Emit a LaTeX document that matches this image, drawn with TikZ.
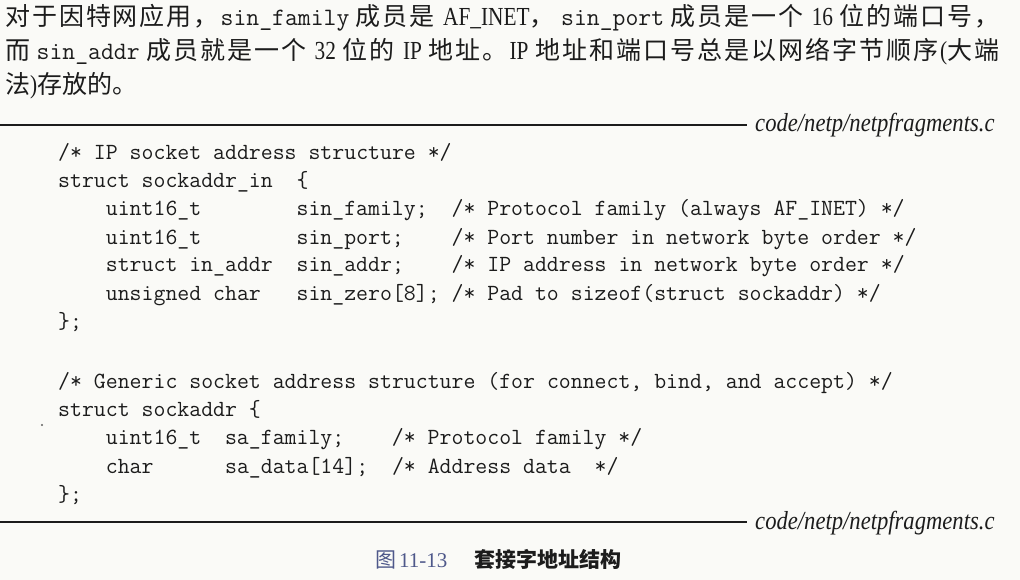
\documentclass[tikz,border=0pt]{standalone}
\usepackage{fontspec}
\usepackage{graphicx}
\setmainfont{Liberation Serif}
\newfontfamily\cjk{Noto Sans CJK SC}
\definecolor{paper}{RGB}{250,250,247}
\definecolor{ink}{RGB}{28,28,28}
\definecolor{capblue}{RGB}{78,88,138}
\newcommand\tx[1]{{\fontsize{25}{25}\selectfont\ttfamily #1}}
\newcommand\lr[1]{\scalebox{0.82}[1]{\fontsize{26}{26}\selectfont\rmfamily #1}}
\newcommand\gp{\hskip 0.22em plus 0.5pt\relax}
\makeatletter
\def\sprd#1{\sprd@#1\@nil}
\def\sprd@#1{\ifx\@nil#1\else#1\hskip 0pt plus 1pt\relax\expandafter\sprd@\fi}
\makeatother
\begin{document}
\begin{tikzpicture}[x=1pt,y=-1pt,
  bodytext/.style={anchor=base west, inner sep=0pt, text=ink, font=\cjk\fontsize{25}{34}\selectfont},
  codeline/.style={anchor=base west, inner sep=0pt, text=ink, font=\fontsize{23.15}{28}\selectfont\ttfamily},
  rulestyle/.style={draw=ink, line width=2.2pt},
  filelabel/.style={anchor=base west, inner sep=0pt, text=ink},
  captext/.style={anchor=base west, inner sep=0pt, text=ink}]
\fill[paper] (0,0) rectangle (1020,580);
\useasboundingbox (0,0) rectangle (1020,580);

% paragraph
\node[bodytext] (p1) at (5,26) {\makebox[996pt][s]{\sprd{对于因特网应用，}\tx{sin\_family}\gp\sprd{成员是}\gp\lr{AF\_INET}，\gp\tx{sin\_port}\gp\sprd{成员是一个}\gp\lr{16}\gp\sprd{位的端口号，}}};
\node[bodytext] (p2) at (5,60) {\makebox[996pt][s]{而\gp\tx{sin\_addr}\gp\sprd{成员就是一个}\gp\lr{32}\gp\sprd{位的}\gp\lr{IP}\gp\sprd{地址。}\lr{IP}\gp\sprd{地址和端口号总是以网络字节顺序}\lr{(}\sprd{大端}}};
\node[bodytext] (p3) at (5,94) {法\lr{)}存放的。};

% top rule and file label
\coordinate (r1s) at (0,125);
\coordinate (r1e) at (747,125);
\draw[rulestyle] (r1s) -- (r1e);
\node[filelabel] (lab1) at (755,132) {\scalebox{0.87}[1]{\fontsize{26}{26}\selectfont\itshape code/netp/netpfragments.c}};

% code
\node[codeline] (c1)  at (58,160) {/*~IP~socket~address~structure~*/};
\node[codeline] (c2)  at (58,188) {struct~sockaddr\_in~~\{};
\node[codeline] (c3)  at (58,216) {~~~~uint16\_t~~~~~~~~sin\_family;~~/*~Protocol~family~(always~AF\_INET)~*/};
\node[codeline] (c4)  at (58,244) {~~~~uint16\_t~~~~~~~~sin\_port;~~~~/*~Port~number~in~network~byte~order~*/};
\node[codeline] (c5)  at (58,272) {~~~~struct~in\_addr~~sin\_addr;~~~~/*~IP~address~in~network~byte~order~*/};
\node[codeline] (c6)  at (58,300) {~~~~unsigned~char~~~sin\_zero[8];~/*~Pad~to~sizeof(struct~sockaddr)~*/};
\node[codeline] (c7)  at (58,328) {\};};
\node[codeline] (c8)  at (58,388) {/*~Generic~socket~address~structure~(for~connect,~bind,~and~accept)~*/};
\node[codeline] (c9)  at (58,416) {struct~sockaddr~\{};
\node[codeline] (c10) at (58,444) {~~~~uint16\_t~~sa\_family;~~~~/*~Protocol~family~*/};
\node[codeline] (c11) at (58,473) {~~~~char~~~~~~sa\_data[14];~~/*~Address~data~~*/};
\node[codeline] (c12) at (58,501) {\};};

% scan speck
\fill[ink!70] (42,425) circle (1.1pt);

% bottom rule and file label
\coordinate (r2s) at (0,522);
\coordinate (r2e) at (747,522);
\draw[rulestyle] (r2s) -- (r2e);
\node[filelabel] (lab2) at (755,529) {\scalebox{0.87}[1]{\fontsize{26}{26}\selectfont\itshape code/netp/netpfragments.c}};

% caption
\node[captext] (capt) at (375,567) {{\color{capblue}\cjk\fontsize{21}{21}\selectfont 图\hspace{3pt}\rmfamily 11-13}\hspace{27pt}{\cjk\fontsize{21}{21}\selectfont\bfseries 套接字地址结构}};
\end{tikzpicture}
\end{document}
